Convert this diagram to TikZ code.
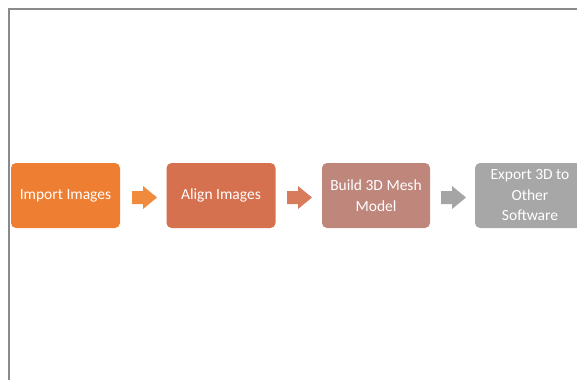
\documentclass[tikz,border=0pt]{standalone}
\usepackage{fontspec}
\setmainfont{Carlito}
\definecolor{c1}{HTML}{EE7E32}
\definecolor{c2}{HTML}{D6714F}
\definecolor{c3}{HTML}{BF867C}
\definecolor{c4}{HTML}{A7A7A7}
\definecolor{a1}{HTML}{F08A3C}
\definecolor{a2}{HTML}{D87A5C}
\definecolor{a3}{HTML}{A5A5A5}
\definecolor{framec}{HTML}{8A8A8A}
\begin{document}
\begin{tikzpicture}[x=1pt,y=-1pt,
  stepbox/.style={draw=none, rounded corners=5pt, minimum width=109pt, minimum height=65pt,
    inner sep=2pt, text=white, align=center, font=\fontsize{15.5}{20.5}\selectfont},
  blockarrow/.pic={\fill (-12.5,-6.5) -- (-1.5,-6.5) -- (-1.5,-11.5) -- (12.5,0) -- (-1.5,11.5) -- (-1.5,6.5) -- (-12.5,6.5) -- cycle;}]
\useasboundingbox (0,0) rectangle (577,380);
\clip (0,0) rectangle (577,380);
\draw[framec, line width=1.2pt] (9,380) -- (9,9) -- (578,9);
\node[stepbox, fill=c1] (b1) at (65.5,195.5) {Import Images};
\node[stepbox, fill=c2] (b2) at (221,195.5) {Align Images};
\node[stepbox, fill=c3, minimum width=108pt] (b3) at (376,195.5) {Build 3D Mesh\\Model};
\node[stepbox, fill=c4, minimum width=110pt] (b4) at (530,195.5) {Export 3D to\\Other\\Software};
\pic[a1] (ar1) at (144.5,197.5) {blockarrow};
\pic[a2] (ar2) at (299.5,197.5) {blockarrow};
\pic[a3] (ar3) at (453.5,197.5) {blockarrow};
\end{tikzpicture}
\end{document}
